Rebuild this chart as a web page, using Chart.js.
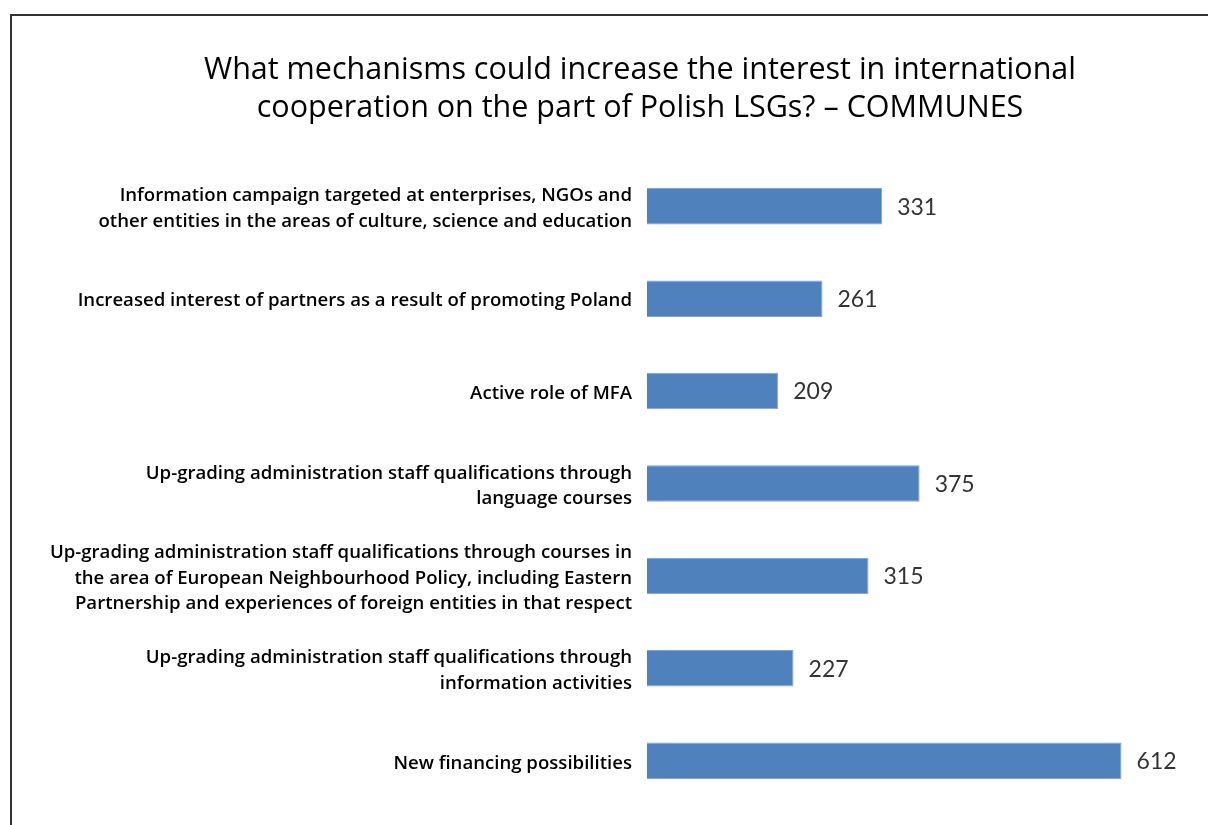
<!DOCTYPE html>
<html>
<head>
<meta charset="utf-8">
<script src="https://cdn.jsdelivr.net/npm/chart.js@4/dist/chart.umd.min.js"></script>
<style>
  html, body { margin: 0; padding: 0; background: #fff; }
  #wrap { width: 1208px; height: 825px; position: relative; }
</style>
</head>
<body>
<div id="wrap"><canvas id="chart" width="1208" height="825"></canvas></div>
<script>
// Survey answers (communes): mechanisms that could raise interest in international cooperation
const titleLines = [
  'What mechanisms could increase the interest in international',
  'cooperation on the part of Polish LSGs? \u2013 COMMUNES'
];

const categories = [
  ['Information campaign targeted at enterprises, NGOs and', 'other entities in the areas of culture, science and education'],
  ['Increased interest of partners as a result of promoting Poland'],
  ['Active role of MFA'],
  ['Up-grading administration staff qualifications through', 'language courses'],
  ['Up-grading administration staff qualifications through courses in', 'the area of European Neighbourhood Policy, including Eastern', 'Partnership and experiences of foreign entities in that respect'],
  ['Up-grading administration staff qualifications through', 'information activities'],
  ['New financing possibilities']
];

const responses = [331, 261, 209, 375, 315, 227, 612];

// Frame lines along the top and left edge of the figure
const framePlugin = {
  id: 'frame',
  beforeDraw(chart) {
    const ctx = chart.ctx;
    ctx.save();
    ctx.fillStyle = '#fff';
    ctx.fillRect(0, 0, chart.width, chart.height);
    ctx.strokeStyle = '#333';
    ctx.lineWidth = 2;
    ctx.beginPath();
    ctx.moveTo(11, chart.height);
    ctx.lineTo(11, 15);
    ctx.lineTo(chart.width, 15);
    ctx.stroke();
    ctx.restore();
  }
};

// Two-line heading, centred within the framed box
const headingPlugin = {
  id: 'heading',
  afterDraw(chart) {
    const ctx = chart.ctx;
    ctx.save();
    ctx.font = '500 30.5px "Open Sans"';
    ctx.fillStyle = '#000';
    ctx.textAlign = 'center';
    ctx.textBaseline = 'middle';
    titleLines.forEach((line, i) => {
      ctx.fillText(line, 640, 70 + i * 38);
    });
    ctx.restore();
  }
};

// Value printed to the right of each bar
const valueLabels = {
  id: 'valueLabels',
  afterDatasetsDraw(chart) {
    const ctx = chart.ctx;
    const meta = chart.getDatasetMeta(0);
    ctx.save();
    ctx.font = '23px Lato';
    ctx.fillStyle = '#333';
    ctx.textAlign = 'left';
    ctx.textBaseline = 'middle';
    meta.data.forEach((bar, i) => {
      ctx.fillText(String(responses[i]), bar.x + 15, bar.y + 1);
    });
    ctx.restore();
  }
};

new Chart(document.getElementById('chart'), {
  type: 'bar',
  data: {
    labels: categories,
    datasets: [{
      data: responses,
      backgroundColor: '#4F81BD',
      borderColor: '#7EA5D6',
      borderWidth: 1,
      borderSkipped: false,
      barPercentage: 0.395,
      categoryPercentage: 1.0
    }]
  },
  options: {
    indexAxis: 'y',
    responsive: false,
    animation: false,
    devicePixelRatio: 1,
    layout: { padding: { left: 0, right: 20, top: 160, bottom: 18 } },
    plugins: {
      legend: { display: false },
      tooltip: { enabled: false },
      title: { display: false }
    },
    scales: {
      x: {
        display: false,
        min: 55,
        max: 690
      },
      y: {
        grid: { display: false, drawTicks: false },
        border: { display: false },
        afterFit(scale) {
          scale.width = 647;
          scale.paddingTop = 0;
          scale.paddingBottom = 0;
        },
        ticks: {
          color: '#000',
          padding: 15,
          labelOffset: 2.5,
          font: { family: 'Open Sans', size: 18.6, weight: '600', lineHeight: 1.37 }
        }
      }
    }
  },
  plugins: [framePlugin, headingPlugin, valueLabels]
});
</script>
</body>
</html>
